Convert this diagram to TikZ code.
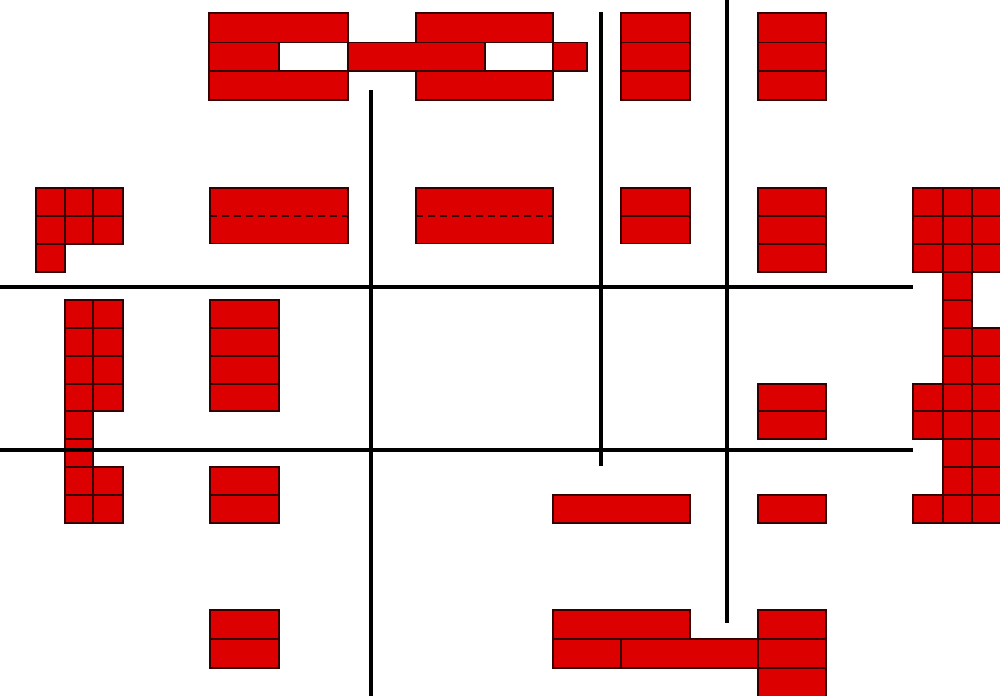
\documentclass[tikz,border=0pt]{standalone}
\definecolor{brick}{RGB}{221,0,0}
\definecolor{edge}{RGB}{55,0,0}

\begin{document}
\begin{tikzpicture}[x=0.75pt,y=-0.75pt,
 cell/.style={draw=edge,line width=1pt,fill=brick},
 seam/.style={draw=edge,line width=0.8pt,dash pattern=on 5pt off 4pt},
 wall/.style={line width=3pt,black}]
\useasboundingbox (0,0) rectangle (1000,696);
\clip (0,0) rectangle (1000,696);

% top row: the two linked blocks
\draw[cell] (209,13) rectangle (348,42.5);
\draw[cell] (209,42.5) rectangle (279,71);
\draw[cell] (209,71) rectangle (348,100);
\draw[cell] (348,42.5) rectangle (485,71);
\draw[cell] (416,13) rectangle (553,42.5);
\draw[cell] (416,71) rectangle (553,100);
\draw[cell] (553,42.5) rectangle (587,71);
\foreach \xa/\xb in {621/690,758/826}
  \foreach \ya/\yb in {13/42.5,42.5/71,71/100}
    \draw[cell] (\xa,\ya) rectangle (\xb,\yb);

% left cluster
\foreach \xa/\xb/\ya/\yb in {36/65/188/216,65/93/188/216,93/123/188/216,
  36/65/216/244,65/93/216/244,93/123/216/244,36/65/244/272,
  65/93/411/439,65/93/439/467}
  \draw[cell] (\xa,\ya) rectangle (\xb,\yb);
\foreach \ya/\yb in {300/328,328/356,356/384,384/411,467/495,495/523}
  \foreach \xa/\xb in {65/93,93/123}
    \draw[cell] (\xa,\ya) rectangle (\xb,\yb);

% right cluster
\foreach \ya/\yb in {188/216,216/244,244/272,384/411,411/439,495/523}
  \foreach \xa/\xb in {913/943,943/972,972/1001}
    \draw[cell] (\xa,\ya) rectangle (\xb,\yb);
\foreach \ya/\yb in {328/356,356/384,439/467,467/495}
  \foreach \xa/\xb in {943/972,972/1001}
    \draw[cell] (\xa,\ya) rectangle (\xb,\yb);
\foreach \ya/\yb in {272/300,300/328}
  \draw[cell] (943,\ya) rectangle (972,\yb);

% second row blocks
\foreach \xa/\xb in {210/348,416/553}{
  \draw[cell] (\xa,188) rectangle (\xb,243.5);
  \draw[seam] (\xa,216) -- (\xb,216);
}
\draw[cell] (621,188) rectangle (690,216);
\draw[cell] (621,216) rectangle (690,243.5);
\foreach \ya/\yb in {188/216,216/244,244/272}
  \draw[cell] (758,\ya) rectangle (826,\yb);

% lower blocks
\foreach \xa/\xb/\ya/\yb in {210/279/300/328,210/279/328/356,210/279/356/384,210/279/384/411,
  210/279/467/495,210/279/495/523,758/826/384/411,758/826/411/439,
  553/690/495/523,758/826/495/523,210/279/610/639,210/279/639/668,
  553/690/610/639,553/621/639/668,621/758/639/668,
  758/826/610/639,758/826/639/668,758/826/668/697}
  \draw[cell] (\xa,\ya) rectangle (\xb,\yb);

% walls
\draw[wall] (0,287) -- (913,287);
\draw[wall] (0,450) -- (913,450);
\draw[wall] (371,90) -- (371,697);
\draw[wall] (601,12) -- (601,466);
\draw[wall] (727,-1) -- (727,623);
\end{tikzpicture}
\end{document}
